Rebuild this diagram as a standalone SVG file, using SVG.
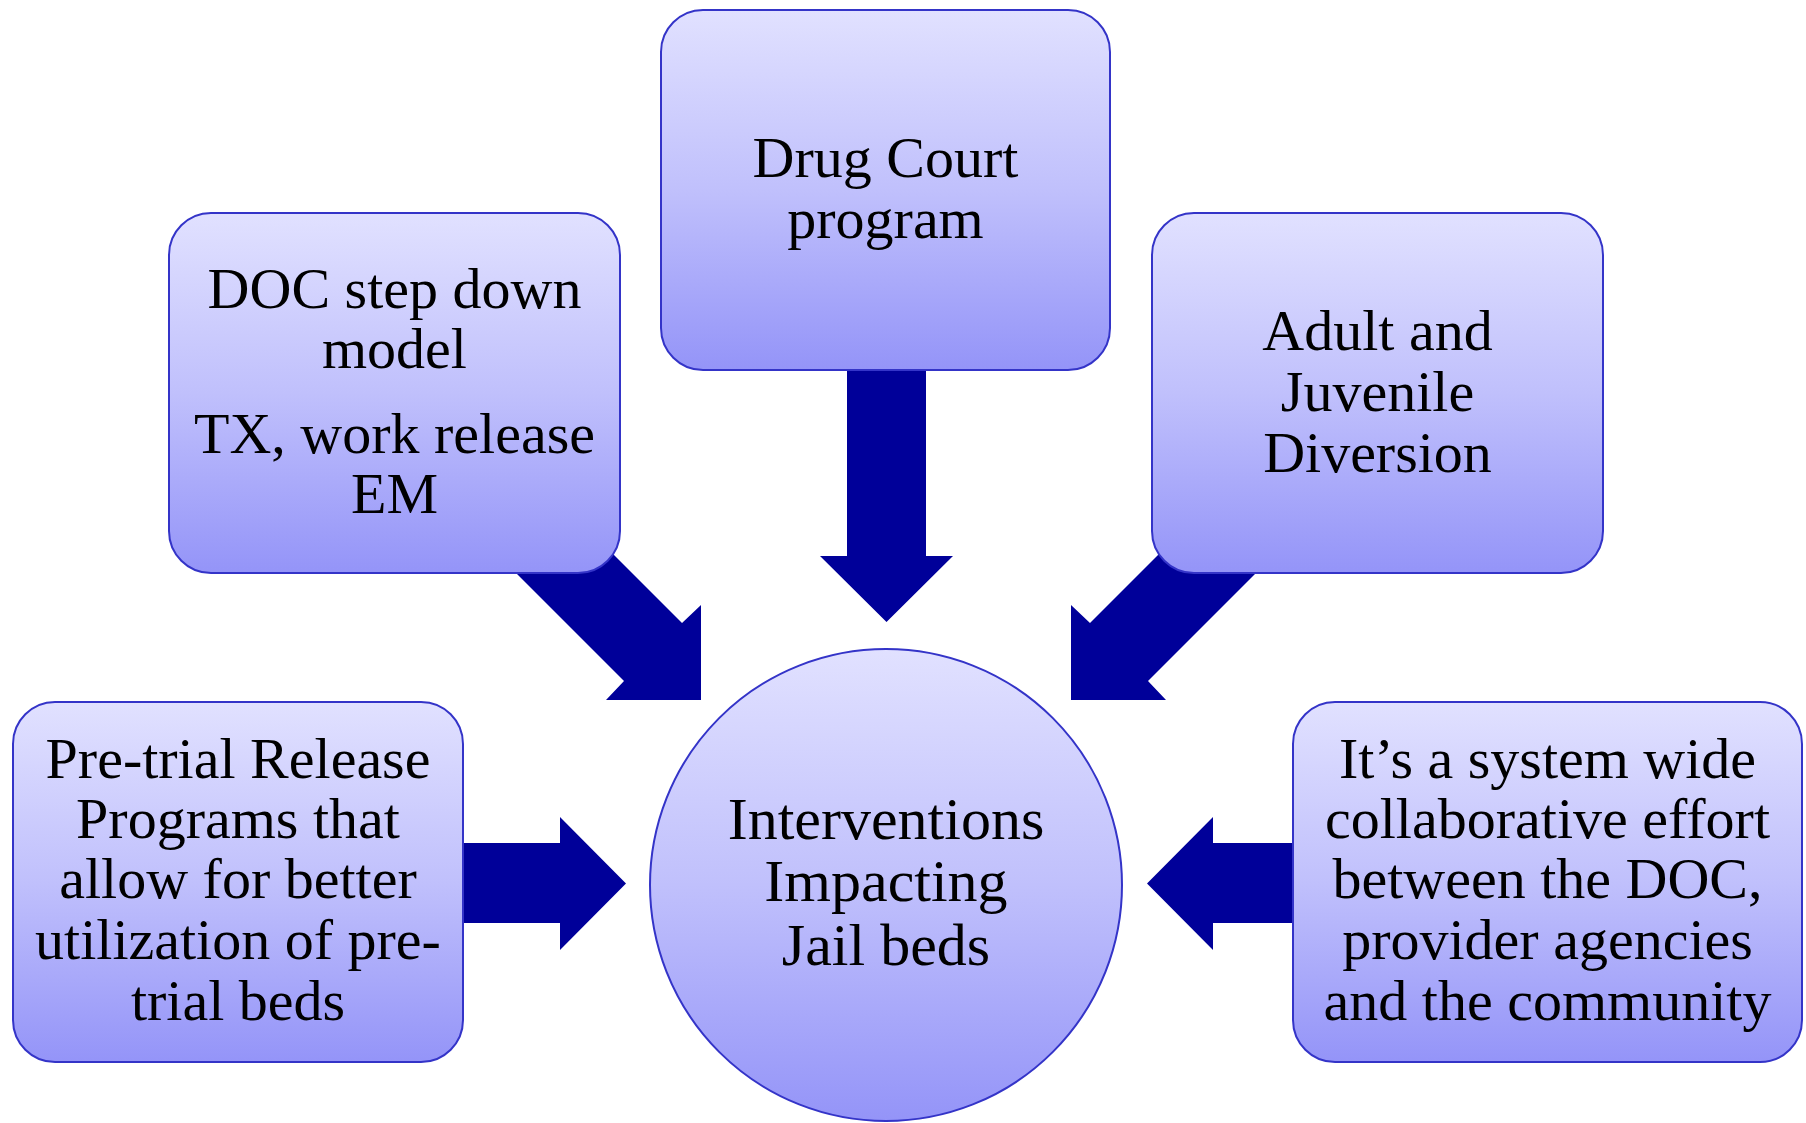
<svg xmlns="http://www.w3.org/2000/svg" width="1806" height="1123" viewBox="0 0 1806 1123">
  <defs>
    <linearGradient id="fillGrad" x1="0" y1="0" x2="0" y2="1">
      <stop offset="0" stop-color="#E1E1FF"/>
      <stop offset="0.5" stop-color="#C0C0FC"/>
      <stop offset="1" stop-color="#9494F8"/>
    </linearGradient>
  </defs>
  <style>
    .box { fill: url(#fillGrad); stroke: #3434C8; stroke-width: 2; }
    .arrow { fill: #000099; stroke: none; }
    .label { font-family: "Liberation Serif", "Times New Roman", serif; font-size: 58px; fill: #000; text-anchor: middle; }
    .big { font-size: 60px; }
  </style>
  <rect x="0" y="0" width="1806" height="1123" fill="#FFFFFF"/>

  <!-- block arrows pointing at the hub -->
  <g id="connectors">
    <path class="arrow" d="M847,360 H926 V556 H953 L886.5,622 L820,556 H847 Z"/>
    <path class="arrow" d="M540,481 L682,623 L701,605 L701,700 L606,700 L624,681 L482,539 Z"/>
    <path class="arrow" d="M1232,481 L1090,623 L1071,605 L1071,700 L1166,700 L1148,681 L1290,539 Z"/>
    <path class="arrow" d="M455,843 H560 V817 L626,883.5 L560,950 V923 H455 Z"/>
    <path class="arrow" d="M1300,843 H1213 V817 L1147,883.5 L1213,950 V923 H1300 Z"/>
  </g>

  <g id="drug-court">
    <rect class="box" x="661" y="10" width="449" height="360" rx="42" ry="42"/>
    <text class="label" x="885.5" y="177">Drug Court</text>
    <text class="label" x="885.5" y="238">program</text>
  </g>

  <g id="doc-step-down">
    <rect class="box" x="169" y="213" width="451" height="360" rx="42" ry="42"/>
    <text class="label" x="394.5" y="308">DOC step down</text>
    <text class="label" x="394.5" y="368">model</text>
    <text class="label" x="394.5" y="453">TX, work release</text>
    <text class="label" x="394.5" y="513">EM</text>
  </g>

  <g id="diversion">
    <rect class="box" x="1152" y="213" width="451" height="360" rx="42" ry="42"/>
    <text class="label" x="1377.5" y="350">Adult and</text>
    <text class="label" x="1377.5" y="411">Juvenile</text>
    <text class="label" x="1377.5" y="472">Diversion</text>
  </g>

  <g id="pretrial-release">
    <rect class="box" x="13" y="702" width="450" height="360" rx="42" ry="42"/>
    <text class="label" x="238" y="778">Pre-trial Release</text>
    <text class="label" x="238" y="838">Programs that</text>
    <text class="label" x="238" y="898">allow for better</text>
    <text class="label" x="238" y="959">utilization of pre-</text>
    <text class="label" x="238" y="1020">trial beds</text>
  </g>

  <g id="system-wide">
    <rect class="box" x="1293" y="702" width="509" height="360" rx="42" ry="42"/>
    <text class="label" x="1547.5" y="778">It’s a system wide</text>
    <text class="label" x="1547.5" y="838">collaborative effort</text>
    <text class="label" x="1547.5" y="898">between the DOC,</text>
    <text class="label" x="1547.5" y="959">provider agencies</text>
    <text class="label" x="1547.5" y="1020">and the community</text>
  </g>

  <g id="hub">
    <circle class="box" cx="886" cy="885" r="236"/>
    <text class="label big" x="886" y="839">Interventions</text>
    <text class="label big" x="886" y="901">Impacting</text>
    <text class="label big" x="886" y="965">Jail beds</text>
  </g>
</svg>
